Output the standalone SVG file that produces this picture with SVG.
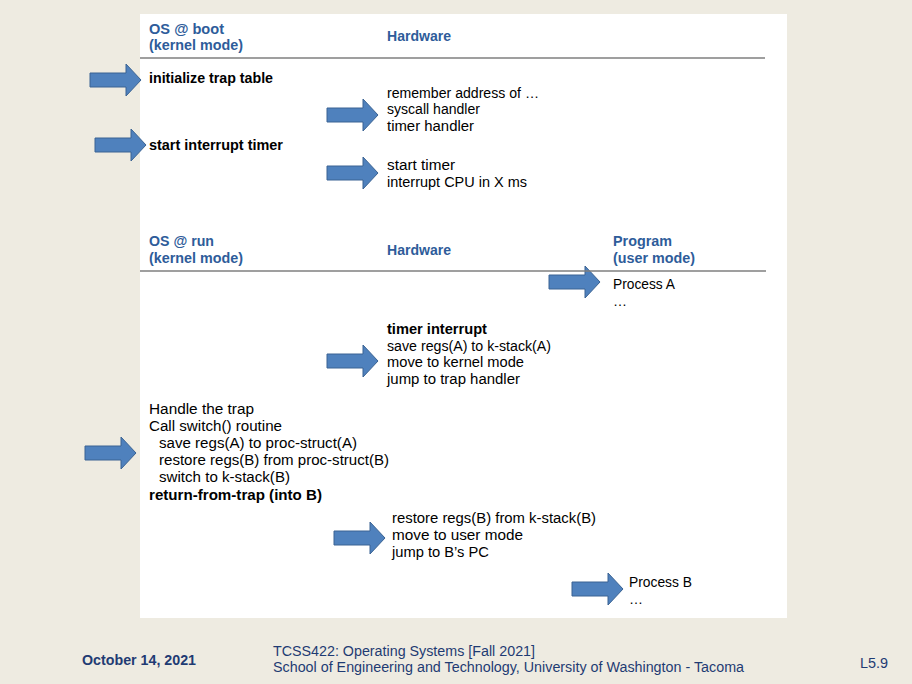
<svg xmlns="http://www.w3.org/2000/svg" xmlns:xlink="http://www.w3.org/1999/xlink" width="912" height="684" viewBox="0 0 912 684">
<defs>
<style>
.t{font-family:"Liberation Sans",Arial,sans-serif;font-size:14px;fill:#000}
.b{font-weight:bold}
.h{font-family:"Liberation Sans",Arial,sans-serif;font-size:14px;font-weight:bold;fill:#2E5C9A}
.f{font-family:"Liberation Sans",Arial,sans-serif;font-size:14px;fill:#1F3B73}
.rule{stroke:#7F7F7F;stroke-width:1.5}
.arr{fill:#4F81BD;stroke:#3A6393;stroke-width:1}
</style>
<path id="arr" class="arr" d="M0,9 H36 V0 L51,16 L36,32 V23 H0 Z"/>
</defs>
<rect x="0" y="0" width="912" height="684" fill="#EEEBE1"/>
<rect x="140" y="14" width="647" height="604" fill="#FFFFFF"/>

<g id="boot-header">
<text class="h" x="149" y="34" textLength="75" lengthAdjust="spacingAndGlyphs">OS @ boot</text>
<text class="h" x="149" y="50" textLength="94" lengthAdjust="spacingAndGlyphs">(kernel mode)</text>
<text class="h" x="387" y="41" textLength="64" lengthAdjust="spacingAndGlyphs">Hardware</text>
<line class="rule" x1="140" y1="58" x2="765" y2="58"/>
</g>

<g id="connectors">
<use xlink:href="#arr" x="90" y="64"/>
<use xlink:href="#arr" x="95" y="129"/>
<use xlink:href="#arr" x="327" y="99"/>
<use xlink:href="#arr" x="327" y="157"/>
<use xlink:href="#arr" x="549" y="266"/>
<use xlink:href="#arr" x="327" y="345"/>
<use xlink:href="#arr" x="85" y="437"/>
<use xlink:href="#arr" x="334" y="522"/>
<use xlink:href="#arr" x="572" y="573"/>
</g>

<g id="init-trap">
<text class="t b" x="149" y="83" textLength="124" lengthAdjust="spacingAndGlyphs">initialize trap table</text>
</g>
<g id="hw-remember">
<text class="t" x="387" y="98" textLength="152" lengthAdjust="spacingAndGlyphs">remember address of …</text>
<text class="t" x="387" y="114" textLength="93" lengthAdjust="spacingAndGlyphs">syscall handler</text>
<text class="t" x="387" y="131" textLength="87" lengthAdjust="spacingAndGlyphs">timer handler</text>
</g>
<g id="start-timer">
<text class="t b" x="149" y="150" textLength="134" lengthAdjust="spacingAndGlyphs">start interrupt timer</text>
</g>
<g id="hw-timer">
<text class="t" x="387" y="170" textLength="68" lengthAdjust="spacingAndGlyphs">start timer</text>
<text class="t" x="387" y="187" textLength="140" lengthAdjust="spacingAndGlyphs">interrupt CPU in X ms</text>
</g>

<g id="run-header">
<text class="h" x="149" y="246" textLength="65" lengthAdjust="spacingAndGlyphs">OS @ run</text>
<text class="h" x="149" y="263" textLength="94" lengthAdjust="spacingAndGlyphs">(kernel mode)</text>
<text class="h" x="387" y="255" textLength="64" lengthAdjust="spacingAndGlyphs">Hardware</text>
<text class="h" x="613" y="246" textLength="59" lengthAdjust="spacingAndGlyphs">Program</text>
<text class="h" x="613" y="263" textLength="82" lengthAdjust="spacingAndGlyphs">(user mode)</text>
<line class="rule" x1="140" y1="271" x2="766" y2="271"/>
</g>

<g id="process-a">
<text class="t" x="613" y="289" textLength="62" lengthAdjust="spacingAndGlyphs">Process A</text>
<text class="t" x="613" y="306">…</text>
</g>
<g id="hw-interrupt">
<text class="t b" x="387" y="334" textLength="100" lengthAdjust="spacingAndGlyphs">timer interrupt</text>
<text class="t" x="387" y="351" textLength="164" lengthAdjust="spacingAndGlyphs">save regs(A) to k-stack(A)</text>
<text class="t" x="387" y="367" textLength="137" lengthAdjust="spacingAndGlyphs">move to kernel mode</text>
<text class="t" x="387" y="384" textLength="133" lengthAdjust="spacingAndGlyphs">jump to trap handler</text>
</g>
<g id="os-handle">
<text class="t" x="149" y="414" textLength="105" lengthAdjust="spacingAndGlyphs">Handle the trap</text>
<text class="t" x="149" y="431" textLength="133" lengthAdjust="spacingAndGlyphs">Call switch() routine</text>
<text class="t" x="159" y="448" textLength="198" lengthAdjust="spacingAndGlyphs">save regs(A) to proc-struct(A)</text>
<text class="t" x="159" y="465" textLength="230" lengthAdjust="spacingAndGlyphs">restore regs(B) from proc-struct(B)</text>
<text class="t" x="159" y="482" textLength="131" lengthAdjust="spacingAndGlyphs">switch to k-stack(B)</text>
<text class="t b" x="149" y="500" textLength="173" lengthAdjust="spacingAndGlyphs">return-from-trap (into B)</text>
</g>
<g id="hw-restore">
<text class="t" x="392" y="523" textLength="204" lengthAdjust="spacingAndGlyphs">restore regs(B) from k-stack(B)</text>
<text class="t" x="392" y="540" textLength="131" lengthAdjust="spacingAndGlyphs">move to user mode</text>
<text class="t" x="392" y="557" textLength="97" lengthAdjust="spacingAndGlyphs">jump to B’s PC</text>
</g>
<g id="process-b">
<text class="t" x="629" y="587" textLength="63" lengthAdjust="spacingAndGlyphs">Process B</text>
<text class="t" x="629" y="604">…</text>
</g>

<g id="footer">
<text class="f" x="82" y="665" font-weight="bold" textLength="114" lengthAdjust="spacingAndGlyphs">October 14, 2021</text>
<text class="f" x="273" y="656" textLength="262" lengthAdjust="spacingAndGlyphs">TCSS422: Operating Systems [Fall 2021]</text>
<text class="f" x="273" y="672" textLength="471" lengthAdjust="spacingAndGlyphs">School of Engineering and Technology, University of Washington - Tacoma</text>
<text class="f" x="860" y="668" textLength="28" lengthAdjust="spacingAndGlyphs">L5.9</text>
</g>
</svg>
